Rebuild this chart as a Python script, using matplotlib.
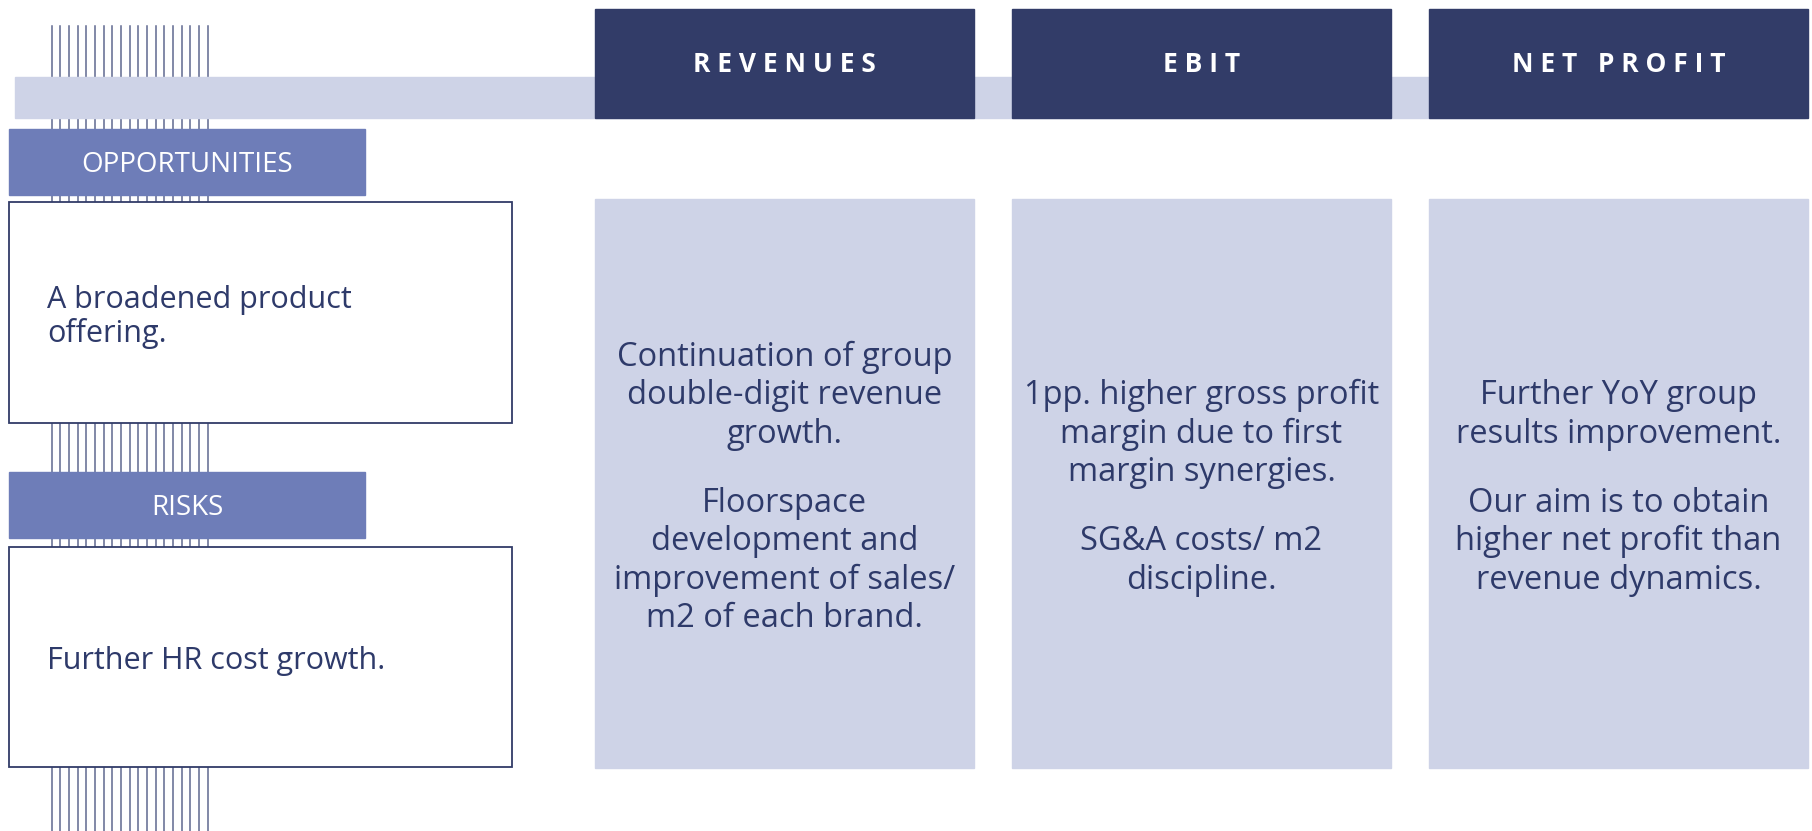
import matplotlib.pyplot as plt
from matplotlib.patches import Rectangle

plt.rcParams['font.family'] = ['Open Sans', 'DejaVu Sans']

# colours
navy = '#323c68'
light = '#ced3e7'
mid = '#6e7db8'
txt = '#2e3a6a'

# data
headers = ['REVENUES', 'EBIT', 'NET PROFIT']
header_x = [595, 1012, 1429]
col_text = [
    ['Continuation of group\ndouble-digit revenue\ngrowth.',
     'Floorspace\ndevelopment and\nimprovement of sales/\nm2 of each brand.'],
    ['1pp. higher gross profit\nmargin due to first\nmargin synergies.',
     'SG&A costs/ m2\ndiscipline.'],
    ['Further YoY group\nresults improvement.',
     'Our aim is to obtain\nhigher net profit than\nrevenue dynamics.'],
]
side_labels = ['OPPORTUNITIES', 'RISKS']
side_text = ['A broadened product\noffering.', 'Further HR cost growth.']
label_y = [129, 472]
box_y = [(202, 423), (547, 767)]

W, H = 1812, 831
fig = plt.figure(figsize=(W / 100, H / 100), dpi=100)
ax = fig.add_axes([0, 0, 1, 1])
ax.set_xlim(0, W)
ax.set_ylim(H, 0)
ax.axis('off')

# striped lines on the left
for i in range(19):
    x = 51.7 + i * 8.67
    ax.plot([x, x], [26, H], color='#5f6890', lw=1.1, zorder=1)

# horizontal band
ax.add_patch(Rectangle((15, 77), 1790, 41, color=light, zorder=2))

# column headers and bodies
colw = 379
pitch, gap = 38.5, 69
fs = 23.5
for name, x, paras in zip(headers, header_x, col_text):
    ax.add_patch(Rectangle((x, 9), colw, 109, color=navy, zorder=3))
    ax.text(x + colw / 2, 65, ' '.join(name), color='white',
            fontsize=19, fontweight='bold', ha='center', va='center', zorder=4)
    ax.add_patch(Rectangle((x, 199), colw, 569, color=light, zorder=3))
    lines = [p.split('\n') for p in paras]
    span = sum((len(l) - 1) * pitch for l in lines) + (len(lines) - 1) * gap
    y = 484 - span / 2
    for para in lines:
        for j, line in enumerate(para):
            ax.text(x + colw / 2, y + j * pitch, line, color=txt,
                    fontsize=fs, ha='center', va='center_baseline', zorder=4)
        y += (len(para) - 1) * pitch + gap

# opportunities / risks
for lab, ly, (y0, y1), t in zip(side_labels, label_y, box_y, side_text):
    ax.add_patch(Rectangle((9, ly), 356, 66, color=mid, zorder=3))
    ax.text(187, ly + 36, lab, color='white', fontsize=20, ha='center',
            va='center', zorder=4)
    ax.add_patch(Rectangle((9, y0), 503, y1 - y0, facecolor='white',
                           edgecolor=navy, lw=1.3, zorder=3))
    ax.text(47, (y0 + y1) / 2 + 4.5, t, color=txt, fontsize=22, ha='left',
            va='center', linespacing=1.13, zorder=4)

fig.savefig('out.png', dpi=100)
